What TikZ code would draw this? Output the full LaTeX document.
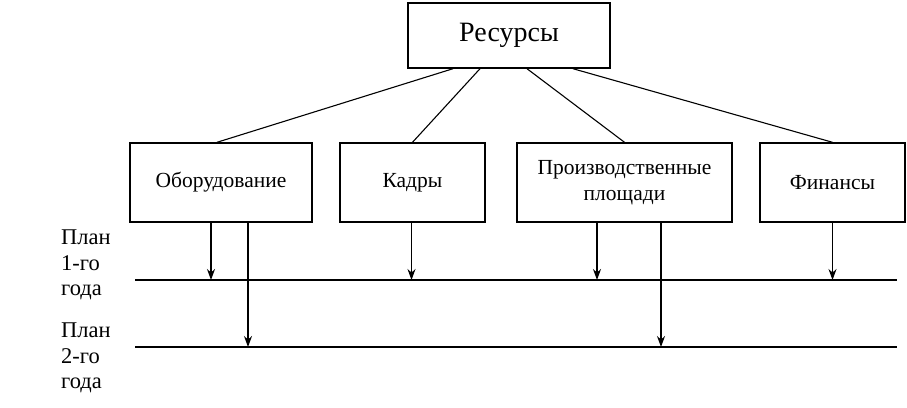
\documentclass[tikz,border=0pt]{standalone}
\usepackage{fontspec}
\setmainfont{Liberation Serif}
\usetikzlibrary{arrows.meta}

\tikzset{
  box/.style={draw, line width=1.4pt, inner sep=0pt, align=center,
    font=\fontsize{21.5}{26}\selectfont},
  link/.style={line width=1.1pt},
  plan/.style={line width=1.4pt},
  side/.style={anchor=west, align=left, inner sep=0pt, font=\fontsize{22.5}{25.5}\selectfont},
}

\begin{document}
\begin{tikzpicture}[x=1pt, y=-1pt, >={Stealth[length=11pt,width=8pt]}]
		\useasboundingbox (0,0) rectangle (907,407);
		\node[box, minimum width=202pt, minimum height=65pt,
		  font=\fontsize{28}{32}\selectfont] (res) at (509,35.5) {Ресурсы};
		\node[box, minimum width=182pt, minimum height=79pt] (obor) at (221,182.5) {Оборудование};
		\node[box, minimum width=145pt, minimum height=79pt] (kadr) at (412.5,182.5) {Кадры};
		\node[box, minimum width=215pt, minimum height=79pt] (proiz) at (624.5,182.5) {Производственные\\площади};
		\node[box, minimum width=145pt, minimum height=79pt] (fin) at (832.5,182.5) {Финансы};
		% links from the top box
		\draw[link] ([xshift=-56pt]res.south) -- ([xshift=-4pt]obor.north);
		\draw[link] ([xshift=-29pt]res.south) -- (kadr.north);
		\draw[link] ([xshift=18pt]res.south) -- (proiz.north);
		\draw[link] ([xshift=64pt]res.south) -- (fin.north);
		% plan lines
		\coordinate (p1a) at (135,280);
		\coordinate (p1b) at (897,280);
		\coordinate (p2a) at (135,347);
		\coordinate (p2b) at (897,347);
		\draw[plan] (p1a) -- (p1b);
		\draw[plan] (p2a) -- (p2b);
		\node[side] (plan1) at (61,265) {План\\1-го\\года};
		\node[side] (plan2) at (61,358) {План\\2-го\\года};
		% arrows to the plans
		\draw[->, link] ([xshift=-10pt]obor.south) -- ([xshift=-10pt]obor.south |- p1a);
		\draw[->, link] ([xshift=27pt]obor.south) -- ([xshift=27pt]obor.south |- p2a);
		\draw[->, link] ([xshift=-1pt]kadr.south) -- ([xshift=-1pt]kadr.south |- p1a);
		\draw[->, link] ([xshift=-27.5pt]proiz.south) -- ([xshift=-27.5pt]proiz.south |- p1a);
		\draw[->, link] ([xshift=36.5pt]proiz.south) -- ([xshift=36.5pt]proiz.south |- p2a);
		\draw[->, link] (fin.south) -- (fin.south |- p1a);
	\end{tikzpicture}
\end{document}
